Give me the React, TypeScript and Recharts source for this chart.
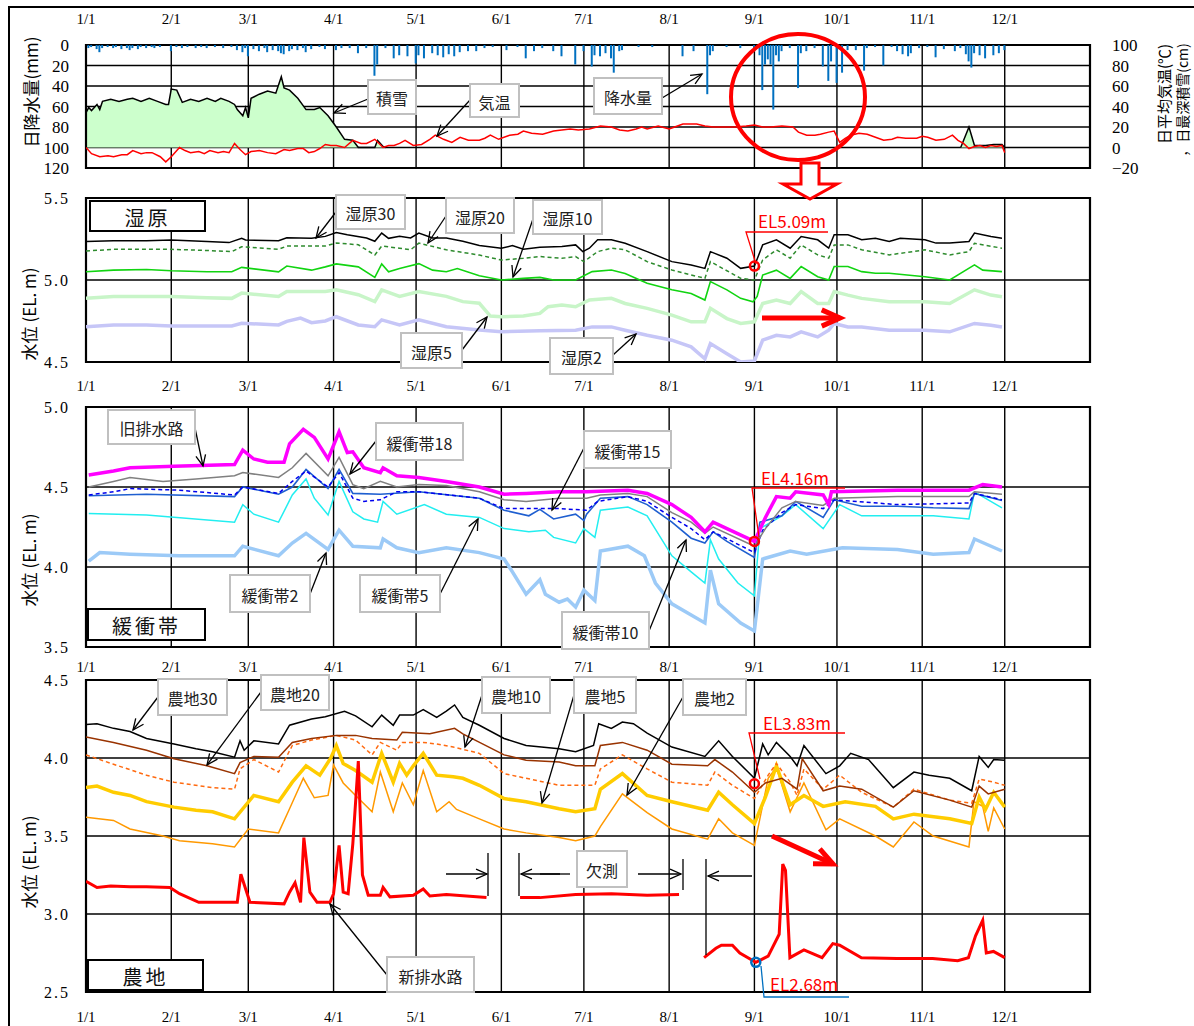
import React from "react";
import {
  ComposedChart,
  Line,
  Area,
  Bar,
  XAxis,
  YAxis,
  CartesianGrid,
  ReferenceArea,
  ReferenceDot,
} from "recharts";

type Pt = [number, number];

// ---- axis categories ----
const monthDays = [0, 31, 59, 90, 120, 151, 181, 212, 243, 273, 304, 334];
const monthLabels = ["1/1", "2/1", "3/1", "4/1", "5/1", "6/1", "7/1", "8/1", "9/1", "10/1", "11/1", "12/1"];
const xTicks = [...monthDays, 365];

// ---- weather panel: [day of year, value] ----
const rainfall: Pt[] = [
  [1, 3], [2, 2], [4, 4], [5, 7], [6, 3], [8, 2], [10, 3], [11, 2], [13, 4], [15, 3], [16, 5], [17, 3], [19, 4],
  [20, 2], [22, 3], [24, 2], [25, 3], [27, 2], [31, 6], [33, 2], [35, 3], [37, 2], [40, 3], [42, 2], [44, 3],
  [47, 2], [50, 3], [53, 2], [55, 5], [57, 7], [58, 3], [59, 11], [61, 4], [63, 6], [65, 3], [66, 7], [68, 5],
  [70, 6], [71, 8], [72, 9], [74, 6], [75, 4], [77, 5], [79, 3], [80, 7], [82, 4], [85, 2], [87, 4], [91, 5],
  [93, 3], [96, 3], [99, 8], [102, 3], [105, 30], [106, 19], [109, 3], [112, 13], [114, 10], [117, 11],
  [120, 18], [121, 10], [123, 13], [126, 8], [128, 10], [130, 12], [132, 9], [134, 11], [136, 7], [139, 6],
  [142, 6], [145, 3], [148, 2], [153, 5], [157, 2], [160, 13], [163, 6], [166, 3], [170, 6], [173, 11],
  [178, 19], [181, 6], [184, 21], [185, 10], [187, 11], [189, 8], [191, 13], [192, 27], [194, 6], [195, 5],
  [201, 2], [206, 2], [217, 11], [221, 6], [226, 48], [227, 10], [228, 6], [233, 2], [238, 3], [243, 4],
  [245, 10], [246, 44], [247, 19], [248, 14], [249, 19], [250, 63], [251, 10], [252, 16], [253, 6], [256, 3],
  [259, 42], [260, 8], [262, 6], [265, 3], [268, 21], [270, 35], [271, 16], [273, 37], [275, 27], [277, 5],
  [280, 5], [283, 25], [284, 3], [287, 2], [290, 20], [293, 2], [295, 6], [297, 9], [299, 11], [300, 8],
  [303, 3], [306, 2], [309, 12], [312, 4], [316, 6], [318, 3], [320, 9], [321, 16], [322, 22], [323, 8],
  [325, 10], [327, 13], [330, 10], [332, 8], [334, 5],
];

const airTemp: Pt[] = [
  [0, 0], [2, -6], [5, -9], [8, -8], [10, -9], [13, -7], [15, -7], [17, -3], [20, -6], [22, -5], [24, -5],
  [27, -9], [29, -14], [31, -9], [34, 0], [36, -3], [38, -5], [41, -4], [43, -6], [45, -3], [48, -5], [50, -4],
  [52, -5], [54, 4], [56, -2], [58, -7], [60, -4], [63, -3], [66, -5], [69, -6], [72, -2], [74, -3], [77, -1],
  [79, -1], [81, -5], [83, -4], [85, -1], [87, 3], [89, 2], [91, 2], [94, 0], [97, 7], [100, 4], [102, 4],
  [105, 8], [108, 0], [110, 2], [112, 2], [114, 4], [116, 7], [119, 2], [122, 3], [125, 8], [127, 12],
  [130, 8], [133, 5], [136, 10], [139, 7], [143, 7], [145, 9], [147, 12], [150, 8], [154, 12], [157, 13],
  [159, 16], [162, 14], [166, 13], [170, 16], [173, 17], [176, 18], [179, 17], [183, 18], [187, 21], [191, 20],
  [194, 17], [197, 16], [200, 18], [202, 20], [204, 18], [208, 21], [212, 18], [214, 20], [217, 23], [220, 23],
  [222, 23], [225, 21], [228, 20], [232, 20], [236, 20], [240, 21], [243, 22], [246, 20], [249, 20], [253, 21],
  [257, 20], [259, 15], [262, 12], [265, 12], [267, 13], [270, 15], [272, 16], [274, 5], [276, 9], [278, 12],
  [281, 14], [284, 13], [287, 10], [290, 7], [293, 8], [295, 10], [298, 9], [302, 9], [304, 11], [306, 10],
  [309, 7], [312, 8], [315, 12], [317, 7], [319, 4], [321, -1], [323, 1], [325, 2], [327, 0], [329, 2],
  [331, 1], [333, 2], [334, -5],
];

const snowWinter: Pt[] = [
  [0, 34], [1, 39], [2, 36], [4, 42], [5, 37], [6, 45], [9, 47], [12, 45], [15, 47], [17, 48], [20, 45],
  [23, 48], [26, 45], [29, 42], [30, 42], [31, 57], [33, 56], [35, 44], [38, 47], [41, 45], [44, 48], [47, 45],
  [49, 48], [52, 45], [54, 42], [55, 37], [57, 31], [58, 39], [59, 29], [60, 48], [63, 52], [66, 55], [69, 53],
  [71, 69], [72, 58], [74, 56], [77, 48], [80, 37], [83, 37], [85, 39], [88, 31], [91, 20], [94, 8], [97, 7],
  [99, 0], [105, 0], [106, 7], [108, 1], [109, 0],
];
const snowLate: Pt[] = [[318, 0], [321, 20], [323, 2], [327, 2], [330, 3], [333, 3], [334, 0]];

// ---- 湿原 panel (EL. m) ----
const wet30: Pt[] = [
  [0, 5.234], [10, 5.24], [22, 5.24], [31, 5.244], [44, 5.234], [52, 5.228], [56.6, 5.254], [58, 5.244],
  [70, 5.24], [73, 5.258], [82, 5.254], [87, 5.266], [91, 5.29], [95, 5.276], [102, 5.256], [105, 5.236],
  [107.5, 5.286], [110, 5.254], [114, 5.266], [118, 5.256], [121, 5.286], [126, 5.256], [131, 5.256],
  [137, 5.236], [143, 5.21], [151, 5.193], [155, 5.21], [159, 5.187], [165, 5.2], [173, 5.204], [178, 5.214],
  [180.6, 5.173], [183, 5.194], [186, 5.245], [191, 5.245], [196, 5.224], [204, 5.173], [213, 5.112],
  [220, 5.092], [225, 5.071], [227, 5.173], [233, 5.133], [238, 5.071], [243, 5.085], [246, 5.214],
  [251, 5.245], [256, 5.194], [260, 5.265], [266, 5.245], [270, 5.194], [272, 5.276], [277, 5.276],
  [282, 5.245], [287, 5.255], [292, 5.235], [296, 5.255], [305, 5.245], [309, 5.225], [314, 5.225],
  [321, 5.235], [323, 5.286], [329, 5.265], [333, 5.255],
];
const wet20: Pt[] = [
  [0, 5.177], [10, 5.187], [31, 5.187], [44, 5.18], [53, 5.173], [56.6, 5.203], [70, 5.187], [73, 5.207],
  [87, 5.207], [91, 5.225], [99, 5.215], [105, 5.152], [107.5, 5.207], [114, 5.194], [118, 5.184],
  [121, 5.225], [131, 5.184], [143, 5.152], [151, 5.122], [159, 5.132], [165, 5.143], [173, 5.132],
  [178, 5.143], [181, 5.112], [186, 5.173], [191, 5.194], [196, 5.184], [204, 5.112], [213, 5.061],
  [220, 5.031], [225, 5.01], [227, 5.112], [238, 5.01], [243, 5.0], [246, 5.122], [251, 5.184], [256, 5.133],
  [260, 5.214], [266, 5.153], [270, 5.133], [272, 5.214], [277, 5.214], [282, 5.184], [292, 5.153],
  [305, 5.184], [314, 5.153], [321, 5.173], [323, 5.224], [333, 5.194],
];
const wet10: Pt[] = [
  [0, 5.05], [10, 5.06], [22, 5.064], [31, 5.056], [44, 5.05], [53, 5.05], [56.6, 5.077], [70, 5.05],
  [73, 5.085], [82, 5.06], [87, 5.08], [91, 5.098], [99, 5.08], [105, 5.016], [107.5, 5.098], [110, 5.05],
  [114, 5.07], [121, 5.1], [126, 5.06], [131, 5.05], [135, 5.07], [143, 5.026], [151, 5.0], [159, 5.01],
  [165, 5.016], [170, 5.0], [178, 5.0], [184, 5.051], [191, 5.061], [196, 5.04], [204, 4.98], [213, 4.94],
  [220, 4.918], [225, 4.878], [227, 4.99], [233, 4.94], [238, 4.888], [242.5, 4.867], [244, 4.9],
  [246, 5.03], [251, 5.06], [256, 5.01], [260, 5.082], [266, 5.02], [270, 5.0], [272, 5.082], [277, 5.082],
  [282, 5.051], [287, 5.041], [292, 5.041], [305, 5.02], [314, 5.0], [323, 5.092], [326, 5.06], [333, 5.051],
];
const wet5: Pt[] = [
  [0, 4.888], [10, 4.9], [22, 4.9], [31, 4.9], [44, 4.892], [53, 4.888], [56.6, 4.92], [70, 4.9], [73, 4.93],
  [87, 4.93], [91, 4.94], [99, 4.91], [105, 4.868], [107.5, 4.94], [114, 4.9], [121, 4.93], [131, 4.9],
  [137, 4.868], [143, 4.858], [147, 4.78], [151, 4.776], [159, 4.78], [165, 4.796], [168, 4.837],
  [173, 4.847], [178, 4.837], [183, 4.878], [191, 4.888], [196, 4.857], [204, 4.827], [213, 4.786],
  [220, 4.745], [225, 4.745], [227, 4.827], [233, 4.765], [238, 4.735], [243, 4.745], [246, 4.857],
  [251, 4.878], [256, 4.857], [260, 4.93], [266, 4.857], [270, 4.857], [272, 4.93], [277, 4.908],
  [282, 4.888], [292, 4.868], [305, 4.867], [314, 4.857], [323, 4.94], [329, 4.908], [333, 4.898],
];
const wet2: Pt[] = [
  [0, 4.715], [10, 4.726], [22, 4.726], [31, 4.72], [44, 4.72], [53, 4.72], [56.6, 4.736], [70, 4.726],
  [73, 4.748], [78, 4.768], [82, 4.74], [87, 4.75], [91, 4.776], [99, 4.726], [105, 4.715], [107.5, 4.757],
  [114, 4.726], [121, 4.757], [131, 4.715], [143, 4.695], [151, 4.685], [165, 4.69], [178, 4.694],
  [184, 4.714], [191, 4.714], [196, 4.694], [204, 4.663], [213, 4.633], [220, 4.592], [225, 4.52],
  [227, 4.612], [233, 4.55], [238, 4.5], [243, 4.506], [246, 4.633], [251, 4.663], [256, 4.653],
  [260, 4.684], [266, 4.653], [270, 4.694], [272, 4.735], [277, 4.714], [282, 4.714], [292, 4.694],
  [305, 4.694], [314, 4.684], [323, 4.735], [329, 4.724], [333, 4.714],
];

// ---- 緩衝帯 panel (EL. m) ----
const oldDrain: Pt[] = [
  [1, 4.575], [10, 4.6], [16, 4.62], [32, 4.63], [54, 4.64], [57, 4.73], [61, 4.675], [66, 4.655],
  [72, 4.655], [74, 4.77], [79, 4.86], [83, 4.81], [88, 4.675], [92, 4.845], [95, 4.715], [97, 4.72],
  [101, 4.62], [107, 4.59], [108, 4.62], [113, 4.57], [121, 4.56], [131, 4.535], [143, 4.5], [152, 4.455],
  [160, 4.46], [172, 4.47], [182, 4.47], [197, 4.48], [204, 4.46], [213, 4.39], [220, 4.31], [225, 4.22],
  [228, 4.28], [233, 4.24], [243, 4.16], [247, 4.31], [251, 4.44], [256, 4.43], [258, 4.47], [268, 4.45],
  [270, 4.39], [271, 4.47], [295, 4.48], [321, 4.48], [326, 4.515], [333, 4.5],
];
const buf18: Pt[] = [
  [1, 4.5], [10, 4.535], [16, 4.56], [28, 4.535], [40, 4.55], [54, 4.57], [57, 4.59], [70, 4.56], [75, 4.62],
  [80, 4.71], [88, 4.57], [92, 4.685], [97, 4.515], [101, 4.49], [107, 4.535], [113, 4.5], [121, 4.515],
  [131, 4.51], [143, 4.47], [152, 4.42], [160, 4.41], [172, 4.43], [182, 4.43], [187, 4.45], [197, 4.46],
  [204, 4.44], [213, 4.34], [220, 4.28], [225, 4.21], [228, 4.25], [243, 4.13], [247, 4.24], [253, 4.37],
  [258, 4.41], [268, 4.385], [272, 4.43], [295, 4.44], [321, 4.44], [323, 4.47], [333, 4.455],
];
const buf15: Pt[] = [
  [1, 4.45], [10, 4.47], [16, 4.49], [34, 4.48], [54, 4.45], [57, 4.5], [70, 4.46], [75, 4.535], [80, 4.6],
  [88, 4.5], [92, 4.59], [97, 4.43], [101, 4.41], [107, 4.42], [113, 4.47], [121, 4.47], [143, 4.43],
  [152, 4.365], [172, 4.365], [182, 4.355], [186, 4.41], [197, 4.44], [204, 4.41], [213, 4.31], [220, 4.24],
  [225, 4.17], [228, 4.22], [243, 4.09], [246, 4.23], [253, 4.34], [258, 4.39], [268, 4.365], [272, 4.42],
  [295, 4.39], [321, 4.4], [323, 4.46], [333, 4.42],
];
const buf10: Pt[] = [
  [1, 4.445], [22, 4.455], [54, 4.44], [57, 4.5], [70, 4.455], [75, 4.5], [80, 4.61], [88, 4.49], [92, 4.61],
  [97, 4.46], [107, 4.455], [121, 4.47], [143, 4.43], [152, 4.355], [161, 4.32], [165, 4.36], [170, 4.3],
  [178, 4.33], [181, 4.29], [182, 4.33], [187, 4.43], [197, 4.44], [204, 4.39], [213, 4.28], [220, 4.18],
  [225, 4.15], [228, 4.22], [233, 4.16], [243, 4.06], [245, 4.28], [253, 4.32], [258, 4.41], [268, 4.31],
  [272, 4.42], [282, 4.38], [295, 4.38], [308, 4.37], [321, 4.365], [323, 4.46], [333, 4.415],
];
const buf5: Pt[] = [
  [1, 4.335], [22, 4.325], [54, 4.28], [57, 4.39], [61, 4.33], [70, 4.28], [75, 4.45], [80, 4.55], [83, 4.43],
  [88, 4.325], [92, 4.535], [97, 4.345], [101, 4.3], [106, 4.28], [108, 4.41], [113, 4.33], [123, 4.39],
  [131, 4.33], [143, 4.31], [152, 4.24], [161, 4.22], [167, 4.23], [170, 4.185], [178, 4.15], [181, 4.24],
  [185, 4.185], [187, 4.355], [197, 4.375], [204, 4.32], [213, 4.07], [220, 3.97], [225, 3.9], [227, 4.17],
  [230, 4.05], [237, 3.9], [243, 3.82], [245, 4.24], [253, 4.32], [258, 4.39], [268, 4.24], [274, 4.39],
  [282, 4.32], [295, 4.32], [308, 4.32], [321, 4.3], [323, 4.47], [333, 4.37],
];
const buf2: Pt[] = [
  [1, 4.036], [5, 4.09], [16, 4.08], [34, 4.07], [54, 4.07], [57, 4.13], [70, 4.07], [75, 4.15], [80, 4.21],
  [88, 4.11], [92, 4.23], [97, 4.13], [107, 4.12], [108, 4.175], [113, 4.12], [121, 4.09], [131, 4.12],
  [143, 4.09], [152, 4.05], [155, 3.97], [160, 3.83], [165, 3.92], [167, 3.83], [172, 3.78], [175, 3.8],
  [178, 3.75], [181, 3.855], [185, 3.79], [187, 4.1], [197, 4.13], [203, 4.07], [207, 3.9], [213, 3.77],
  [220, 3.7], [225, 3.65], [227, 3.98], [230, 3.77], [238, 3.65], [243, 3.6], [246, 4.05], [256, 4.1],
  [262, 4.08], [275, 4.12], [295, 4.11], [308, 4.08], [321, 4.09], [323, 4.175], [333, 4.1],
];

// ---- 農地 panel (EL. m) ----
const farm30: Pt[] = [
  [0, 4.215], [4, 4.22], [10, 4.19], [16, 4.17], [22, 4.125], [32, 4.09], [40, 4.06], [46, 4.04], [54, 4.005],
  [56, 4.11], [57.5, 4.05], [61, 4.11], [70, 4.09], [74, 4.21], [82, 4.25], [87, 4.265], [94, 4.3], [98, 4.27],
  [104, 4.2], [107.5, 4.275], [111.7, 4.21], [114, 4.275], [119, 4.275], [122.6, 4.31], [127.5, 4.26],
  [131, 4.3], [134, 4.34], [137, 4.26], [143, 4.21], [152, 4.125], [160, 4.08], [172, 4.06], [178, 4.04],
  [184.5, 4.08], [186.4, 4.22], [191, 4.19], [195, 4.23], [199, 4.22], [204, 4.16], [213, 4.07], [225, 4.01],
  [230, 4.11], [235, 4.01], [243, 3.87], [246, 4.09], [248, 4.02], [251, 4.1], [256, 4.01], [258.5, 3.95],
  [261, 4.08], [269, 3.9], [274, 3.95], [278, 4.03], [284.5, 3.99], [293.5, 3.81], [301, 3.91],
  [306.5, 3.89], [314, 3.87], [322, 3.79], [324.7, 4.01], [328, 3.94], [330, 3.99], [334, 3.985],
];
const farm20: Pt[] = [
  [0, 4.135], [10, 4.1], [22, 4.05], [32, 3.995], [44, 3.95], [54, 3.9], [56, 3.97], [61, 4.01], [70, 4.005],
  [75, 4.1], [82, 4.125], [91, 4.145], [98, 4.145], [104, 4.125], [113, 4.115], [115, 4.165], [125, 4.155],
  [134, 4.19], [137, 4.155], [152, 4.02], [160, 3.985], [172, 3.975], [178, 3.95], [185, 3.95], [187, 4.08],
  [195, 4.1], [204, 4.05], [213, 3.96], [226, 3.95], [228.6, 3.99], [235, 3.91], [243, 3.78], [247, 3.84],
  [253, 3.87], [258.5, 3.8], [260.4, 3.995], [268, 3.79], [274, 3.82], [282, 3.8], [293.5, 3.685],
  [301, 3.79], [314, 3.73], [322, 3.685], [324.7, 3.82], [328, 3.77], [334, 3.8],
];
const farm10: Pt[] = [
  [0, 4.02], [10, 3.96], [22, 3.89], [32, 3.845], [46, 3.81], [54, 3.8], [56, 3.93], [61, 3.99], [70, 3.91],
  [75, 4.08], [82, 4.115], [91, 4.145], [98, 4.115], [104, 4.02], [107, 4.1], [113, 4.05], [115, 4.1],
  [122.6, 4.1], [127.5, 4.09], [133.5, 4.07], [143, 4.03], [152, 3.9], [160, 3.87], [172, 3.825],
  [178, 3.825], [185, 3.825], [187, 3.93], [195, 4.02], [204, 3.93], [213, 3.845], [226, 3.825],
  [228.6, 3.91], [235, 3.825], [243, 3.74], [248, 3.89], [251, 3.965], [256, 3.845], [258.5, 3.76],
  [261, 3.93], [268, 3.8], [274, 3.89], [282, 3.78], [293.5, 3.685], [301, 3.8], [314, 3.73], [322, 3.71],
  [324.7, 3.865], [330, 3.845], [334, 3.825],
];
const farm5: Pt[] = [
  [0, 3.81], [4, 3.82], [10, 3.78], [16, 3.76], [22, 3.72], [32, 3.685], [40, 3.665], [46, 3.655], [54, 3.61],
  [61, 3.76], [70, 3.72], [75, 3.845], [80, 3.95], [85, 3.89], [89, 4.0], [91, 4.08], [93.5, 3.965], [98, 3.92],
  [104, 3.845], [107.5, 4.03], [111.7, 3.845], [114, 3.965], [116.6, 3.89], [119, 3.95], [122.6, 4.03],
  [127.5, 3.89], [133.5, 3.88], [137, 3.87], [143, 3.825], [152, 3.74], [160, 3.72], [172, 3.675],
  [178, 3.655], [185, 3.675], [187, 3.8], [195, 3.9], [204, 3.76], [213, 3.72], [226, 3.665], [230, 3.78],
  [235, 3.7], [243, 3.58], [247, 3.75], [251, 3.95], [256, 3.7], [261, 3.76], [268, 3.69], [276, 3.72],
  [287, 3.69], [293.5, 3.61], [301, 3.64], [314, 3.61], [322, 3.58], [324.7, 3.75], [327, 3.67], [330, 3.78],
  [334, 3.685],
];
const farm2: Pt[] = [
  [0, 3.62], [10, 3.6], [16, 3.545], [28, 3.5], [34, 3.47], [46, 3.45], [54, 3.43], [59, 3.545], [70, 3.52],
  [74, 3.675], [79, 3.87], [83, 3.745], [88, 3.76], [90, 3.955], [93.5, 3.84], [98, 3.76], [104, 3.655],
  [107, 3.91], [111.7, 3.655], [115, 3.84], [119, 3.7], [122.6, 3.92], [127.5, 3.655], [132, 3.72],
  [134.7, 3.67], [143, 3.61], [152, 3.545], [160, 3.52], [172, 3.49], [178, 3.47], [185, 3.5], [187, 3.56],
  [195, 3.77], [204, 3.65], [213, 3.545], [226, 3.48], [230, 3.61], [235, 3.52], [243, 3.44], [248, 3.87],
  [251, 3.94], [256, 3.655], [261, 3.84], [269, 3.54], [274, 3.61], [287, 3.5], [293.5, 3.43], [301, 3.59],
  [308, 3.5], [321, 3.43], [322.8, 3.72], [326, 3.69], [328, 3.53], [330, 3.68], [334, 3.545],
];
// 新排水路: three pieces, with missing data (欠測) between them
const newDrainA: Pt[] = [
  [0, 3.21], [4, 3.17], [9, 3.18], [16, 3.175], [22, 3.175], [30.5, 3.17], [34, 3.13], [41, 3.075], [55, 3.075],
  [56.3, 3.255], [59.6, 3.075], [72, 3.065], [74, 3.14], [76, 3.2], [78, 3.075], [79.2, 3.49], [81.4, 3.14],
  [84, 3.075], [88.7, 3.075], [90, 3.13], [92, 3.44], [93.5, 3.14], [95.3, 3.13], [97, 3.45], [99, 3.98],
  [100.5, 3.25], [102.6, 3.12], [107, 3.12], [108, 3.17], [110.5, 3.11], [119, 3.12], [122.6, 3.16],
  [125, 3.115], [131, 3.125], [145.6, 3.105],
];
const newDrainB: Pt[] = [[157.8, 3.105], [165, 3.105], [178, 3.125], [191, 3.13], [204, 3.12], [215.6, 3.125]];
const newDrainC: Pt[] = [
  [224.7, 2.72], [229, 2.78], [231, 2.8], [235, 2.8], [237.7, 2.75], [243.5, 2.69], [248, 2.73], [252, 2.87],
  [253.3, 3.32], [254.3, 3.28], [255.9, 2.72], [261, 2.77], [267.6, 2.72], [271.5, 2.81], [274, 2.8],
  [281.9, 2.72], [294.8, 2.715], [307.8, 2.715], [316.9, 2.7], [320.8, 2.72], [323.4, 2.86], [326, 2.96],
  [327.3, 2.75], [329.9, 2.76], [334, 2.72],
];

// ---------------------------------------------------------------
const SERIF = "'Liberation Serif', 'DejaVu Serif', serif";
const SANS = "'Noto Sans CJK JP', 'Noto Sans', sans-serif";
const W = 1194;

function mergeSeries(series: Record<string, Pt[]>) {
  const rows = new Map<number, Record<string, number>>();
  for (const [key, pts] of Object.entries(series)) {
    for (const [day, v] of pts) {
      const row = rows.get(day) ?? { day };
      row[key] = v;
      rows.set(day, row);
    }
  }
  return [...rows.values()].sort((a, b) => a.day - b.day);
}

const topRows = mergeSeries({ rain: rainfall, temp: airTemp, snowA: snowWinter, snowB: snowLate });
const wetRows = mergeSeries({ wet30, wet20, wet10, wet5, wet2 });
const bufRows = mergeSeries({ oldDrain, buf18, buf15, buf10, buf5, buf2 });
const farmRows = mergeSeries({ farm30, farm20, farm10, farm5, farm2, newDrainA, newDrainB, newDrainC });

const fmtMonth = (v: number) => {
  const i = monthDays.indexOf(v);
  return i >= 0 ? monthLabels[i] : "";
};
const xTick = { fill: "#000", fontSize: 15, fontFamily: SERIF };
const yTick = { fill: "#000", fontSize: 17, fontFamily: SERIF };
const elTick = { fill: "#000", fontSize: 16, fontFamily: SERIF, letterSpacing: 2 };

function monthAxis(orientation: "top" | "bottom", margin: number) {
  return (
    <XAxis
      dataKey="day"
      type="number"
      domain={[0, 365]}
      ticks={xTicks}
      interval={0}
      orientation={orientation}
      height={30}
      axisLine={false}
      tickLine={false}
      tickSize={0}
      tickMargin={margin}
      tick={xTick}
      tickFormatter={fmtMonth}
      allowDataOverflow
    />
  );
}

function levelAxis(domain: [number, number], ticks: number[]) {
  return (
    <YAxis
      type="number"
      domain={domain}
      ticks={ticks}
      interval={0}
      width={70}
      axisLine={false}
      tickLine={false}
      tickSize={0}
      tickMargin={16}
      tick={elTick}
      tickFormatter={(v: number) => v.toFixed(1)}
      allowDataOverflow
    />
  );
}

const line = (key: string, color: string, width = 1.5, dash?: string) => (
  <Line
    key={key}
    type="linear"
    dataKey={key}
    stroke={color}
    strokeWidth={width}
    strokeDasharray={dash}
    dot={false}
    activeDot={false}
    connectNulls
    isAnimationActive={false}
  />
);

const gridProps = { stroke: "#000", strokeWidth: 1.4 };
const boxProps = { fill: "none", stroke: "#000", strokeWidth: 2.2, fillOpacity: 0 };
const svgStyle = { overflow: "visible" as const };

type Callout = { text: string; x: number; y: number; w: number; h: number; ax: number; ay: number; tx: number; ty: number };

const callouts: Callout[] = [
  { text: "積雪", x: 368, y: 80, w: 48, h: 34, ax: 368, ay: 99, tx: 334, ty: 113 },
  { text: "気温", x: 470, y: 84, w: 49, h: 33, ax: 470, ay: 100, tx: 437, ty: 136 },
  { text: "降水量", x: 594, y: 78, w: 68, h: 36, ax: 662, ay: 98, tx: 702, ty: 74 },
  { text: "湿原30", x: 336, y: 195, w: 69, h: 34, ax: 336, ay: 212, tx: 316, ty: 238 },
  { text: "湿原20", x: 446, y: 198, w: 68, h: 35, ax: 446, ay: 216, tx: 428, ty: 243 },
  { text: "湿原10", x: 533, y: 200, w: 69, h: 34, ax: 534, ay: 216, tx: 513, ty: 277 },
  { text: "湿原5", x: 401, y: 333, w: 61, h: 35, ax: 462, ay: 350, tx: 487, ty: 317 },
  { text: "湿原2", x: 550, y: 338, w: 63, h: 36, ax: 613, ay: 355, tx: 636, ty: 334 },
  { text: "旧排水路", x: 108, y: 410, w: 87, h: 34, ax: 195, ay: 428, tx: 203, ty: 466 },
  { text: "緩衝帯18", x: 376, y: 423, w: 87, h: 37, ax: 376, ay: 441, tx: 350, ty: 474 },
  { text: "緩衝帯15", x: 584, y: 431, w: 87, h: 37, ax: 584, ay: 448, tx: 552, ty: 510 },
  { text: "緩衝帯2", x: 230, y: 575, w: 80, h: 37, ax: 310, ay: 594, tx: 326, ty: 553 },
  { text: "緩衝帯5", x: 360, y: 575, w: 80, h: 37, ax: 440, ay: 594, tx: 478, ty: 519 },
  { text: "緩衝帯10", x: 562, y: 612, w: 87, h: 37, ax: 649, ay: 631, tx: 686, ty: 540 },
  { text: "農地30", x: 158, y: 679, w: 69, h: 36, ax: 158, ay: 697, tx: 133, ty: 730 },
  { text: "農地20", x: 261, y: 675, w: 68, h: 35, ax: 261, ay: 692, tx: 207, ty: 765 },
  { text: "農地10", x: 482, y: 677, w: 68, h: 36, ax: 482, ay: 695, tx: 465, ty: 747 },
  { text: "農地5", x: 574, y: 677, w: 62, h: 36, ax: 574, ay: 695, tx: 542, ty: 803 },
  { text: "農地2", x: 683, y: 679, w: 63, h: 36, ax: 683, ay: 697, tx: 627, ty: 795 },
  { text: "新排水路", x: 387, y: 957, w: 87, h: 35, ax: 387, ay: 975, tx: 330, ty: 904 },
];

const panelNames = [
  { text: "湿原", x: 90, y: 201, w: 115, h: 30 },
  { text: "緩衝帯", x: 88, y: 609, w: 117, h: 31 },
  { text: "農地", x: 88, y: 960, w: 115, h: 30 },
];

function head(x1: number, y1: number, x2: number, y2: number, len = 12, spread = 0.42) {
  const a = Math.atan2(y2 - y1, x2 - x1);
  const p1 = [x2 - len * Math.cos(a - spread), y2 - len * Math.sin(a - spread)];
  const p2 = [x2 - len * Math.cos(a + spread), y2 - len * Math.sin(a + spread)];
  return `M${p1[0]},${p1[1]} L${x2},${y2} L${p2[0]},${p2[1]}`;
}

function Arrow({ x1, y1, x2, y2, color = "#000", width = 1.3, len = 12 }: any) {
  return (
    <g>
      <line x1={x1} y1={y1} x2={x2} y2={y2} stroke={color} strokeWidth={width} />
      <path d={head(x1, y1, x2, y2, len)} fill="none" stroke={color} strokeWidth={width} />
    </g>
  );
}

function Overlay() {
  return (
    <svg width={W} height={1026} style={{ position: "absolute", left: 0, top: 0, pointerEvents: "none" }}>
      {/* axis titles */}
      <g fontFamily={SANS} fontSize={17} fill="#000">
        <text transform="rotate(-90 30 92)" x={30} y={92} textAnchor="middle" dominantBaseline="central">日降水量(mm)</text>
        <text transform="rotate(-90 1163 94)" x={1163} y={94} textAnchor="middle" dominantBaseline="central" fontSize={15}>日平均気温(℃)</text>
        <text transform="rotate(-90 1182 100)" x={1182} y={100} textAnchor="middle" dominantBaseline="central" fontSize={14}>，日最深積雪(cm)</text>
        <text transform="rotate(-90 28 314)" x={28} y={314} textAnchor="middle" dominantBaseline="central">水位 (EL. m)</text>
        <text transform="rotate(-90 28 560)" x={28} y={560} textAnchor="middle" dominantBaseline="central">水位 (EL. m)</text>
        <text transform="rotate(-90 28 862)" x={28} y={862} textAnchor="middle" dominantBaseline="central">水位 (EL. m)</text>
      </g>

      {/* callout labels */}
      {callouts.map((c) => (
        <g key={c.text}>
          <Arrow x1={c.ax} y1={c.ay} x2={c.tx} y2={c.ty} />
          <rect x={c.x} y={c.y} width={c.w} height={c.h} fill="#fff" stroke="#c0c0c0" strokeWidth={2} />
          <text x={c.x + c.w / 2} y={c.y + c.h / 2 + 1} textAnchor="middle" dominantBaseline="central" fontFamily={SANS} fontSize={16} fill="#222">
            {c.text}
          </text>
        </g>
      ))}

      {panelNames.map((p) => (
        <g key={p.text}>
          <rect x={p.x} y={p.y} width={p.w} height={p.h} fill="#fff" stroke="#000" strokeWidth={2} />
          <text x={p.x + p.w / 2} y={p.y + p.h / 2 + 1} textAnchor="middle" dominantBaseline="central" fontFamily={SANS} fontSize={20} letterSpacing={3} fill="#111">
            {p.text}
          </text>
        </g>
      ))}

      {/* 欠測 markers */}
      <g stroke="#000" strokeWidth={1.3} fill="none">
        <Arrow x1={446} y1={874} x2={487} y2={874} />
        <line x1={488} y1={853} x2={488} y2={896} />
        <line x1={519} y1={853} x2={519} y2={896} />
        <Arrow x1={560} y1={874} x2={521} y2={874} />
        <line x1={540} y1={874} x2={570} y2={874} />
        <Arrow x1={638} y1={874} x2={681} y2={874} />
        <line x1={683} y1={859} x2={683} y2={890} />
        <line x1={706} y1={859} x2={706} y2={955} />
        <Arrow x1={752} y1={876} x2={708} y2={876} />
      </g>
      <rect x={577} y={851} width={50} height={36} fill="#fff" stroke="#c0c0c0" strokeWidth={2} />
      <text x={602} y={870} textAnchor="middle" dominantBaseline="central" fontFamily={SANS} fontSize={16} fill="#222">欠測</text>

      {/* red EL call-outs */}
      <g fontFamily={SANS} fontSize={17} fill="#ff0000">
        <text x={758} y={228}>EL5.09m</text>
        <text x={761} y={485}>EL4.16m</text>
        <text x={763} y={730}>EL3.83m</text>
        <text x={770} y={991}>EL2.68m</text>
      </g>
      <g stroke="#ff0000" strokeWidth={1.3} fill="none">
        <path d="M828,232 L746,232 L756,264" />
        <path d="M845,488 L752,488 L759,537" />
        <path d="M845,733 L749,733 L760,779" />
      </g>
      <path d="M761,966 L764,997 L849,997" stroke="#0070c0" strokeWidth={1.3} fill="none" />

      {/* red emphasis arrows */}
      <Arrow x1={762} y1={318} x2={840} y2={318} color="#ff0000" width={5} len={20} />
      <Arrow x1={772} y1={836} x2={833} y2={864} color="#ff0000" width={5} len={20} />
      <ellipse cx={798} cy={97} rx={67} ry={63} fill="none" stroke="#ff0000" strokeWidth={4} />
      <polygon points="801,163 819,163 819,184 837,184 810,199 783,184 801,184" fill="#fff" stroke="#ff0000" strokeWidth={3} />
    </svg>
  );
}

export default function App() {
  return (
    <div style={{ position: "fixed", left: 0, top: 0, width: W, height: 1026, background: "#fff", overflow: "hidden" }}>
      <div style={{ position: "absolute", left: 8, top: 6, width: 1300, height: 1100, border: "2.5px solid #000" }} />

      {/* precipitation / temperature / snow */}
      <div style={{ position: "absolute", left: 0, top: 0 }}>
        <ComposedChart width={W} height={195} data={topRows} margin={{ top: 15, right: 44, bottom: 27, left: 16 }} style={svgStyle}>
          <CartesianGrid yAxisId="rain" {...gridProps} />
          {monthAxis("top", 21)}
          <YAxis
            yAxisId="rain"
            type="number"
            domain={[0, 120]}
            reversed
            ticks={[0, 20, 40, 60, 80, 100, 120]}
            interval={0}
            width={70}
            axisLine={false}
            tickLine={false}
            tickSize={0}
            tickMargin={17}
            tick={yTick}
          />
          <YAxis
            yAxisId="temp"
            orientation="right"
            type="number"
            domain={[-20, 100]}
            ticks={[-20, 0, 20, 40, 60, 80, 100]}
            interval={0}
            width={60}
            axisLine={false}
            tickLine={false}
            tickSize={0}
            tickMargin={22}
            tick={yTick}
            tickFormatter={(v: number) => (v < 0 ? `−${-v}` : `${v}`)}
          />
          <Area yAxisId="temp" type="linear" dataKey="snowA" stroke="#000" strokeWidth={1.5} fill="#ccffcc" fillOpacity={1} baseValue={0} connectNulls dot={false} activeDot={false} isAnimationActive={false} />
          <Area yAxisId="temp" type="linear" dataKey="snowB" stroke="#000" strokeWidth={1.5} fill="#ccffcc" fillOpacity={1} baseValue={0} connectNulls dot={false} activeDot={false} isAnimationActive={false} />
          <Bar yAxisId="rain" dataKey="rain" fill="#0070c0" barSize={2} isAnimationActive={false} />
          <Line yAxisId="temp" type="linear" dataKey="temp" stroke="#ff0000" strokeWidth={1.5} dot={false} activeDot={false} connectNulls isAnimationActive={false} />
          <ReferenceArea yAxisId="rain" x1={0} x2={365} y1={0} y2={120} {...boxProps} />
        </ComposedChart>
      </div>

      {/* 湿原 */}
      <div style={{ position: "absolute", left: 0, top: 180 }}>
        <ComposedChart width={W} height={222} data={wetRows} margin={{ top: 18, right: 104, bottom: 10, left: 16 }} style={svgStyle}>
          <CartesianGrid {...gridProps} />
          {monthAxis("bottom", 18)}
          {levelAxis([4.5, 5.5], [4.5, 5.0, 5.5])}
          {line("wet2", "#c6c6f7", 3.5)}
          {line("wet5", "#c8f5c8", 3.5)}
          {line("wet10", "#11d411", 1.6)}
          {line("wet20", "#2e8b2e", 1.5, "4 3")}
          {line("wet30", "#000", 1.5)}
          <ReferenceArea x1={0} x2={365} y1={4.5} y2={5.5} {...boxProps} />
          <ReferenceDot x={243} y={5.085} r={4.5} fill="none" stroke="#ff0000" strokeWidth={2.5} />
        </ComposedChart>
      </div>

      {/* 緩衝帯 */}
      <div style={{ position: "absolute", left: 0, top: 390 }}>
        <ComposedChart width={W} height={297} data={bufRows} margin={{ top: 17, right: 104, bottom: 10, left: 16 }} style={svgStyle}>
          <CartesianGrid {...gridProps} />
          {monthAxis("bottom", 14)}
          {levelAxis([3.5, 5.0], [3.5, 4.0, 4.5, 5.0])}
          {line("buf2", "#9ccaf7", 3.5)}
          {line("buf5", "#22eef0", 1.5)}
          {line("buf10", "#1f5fd0", 1.6)}
          {line("buf15", "#0000ee", 1.5, "4 3")}
          {line("buf18", "#808080", 1.5)}
          {line("oldDrain", "#ff00ff", 3.5)}
          <ReferenceArea x1={0} x2={365} y1={3.5} y2={5.0} {...boxProps} />
          <ReferenceDot x={243} y={4.16} r={4.5} fill="none" stroke="#ff0000" strokeWidth={2.5} />
        </ComposedChart>
      </div>

      {/* 農地 */}
      <div style={{ position: "absolute", left: 0, top: 665 }}>
        <ComposedChart width={W} height={370} data={farmRows} margin={{ top: 15, right: 104, bottom: 13, left: 16 }} style={svgStyle}>
          <CartesianGrid {...gridProps} />
          {monthAxis("bottom", 19)}
          {levelAxis([2.5, 4.5], [2.5, 3.0, 3.5, 4.0, 4.5])}
          {line("farm2", "#ff9900", 1.5)}
          {line("farm5", "#ffcc00", 3.5)}
          {line("farm10", "#ff6a10", 1.5, "4 3")}
          {line("farm20", "#993300", 1.5)}
          {line("farm30", "#000", 1.5)}
          {line("newDrainA", "#ff0000", 3)}
          {line("newDrainB", "#ff0000", 3)}
          {line("newDrainC", "#ff0000", 3)}
          <ReferenceArea x1={0} x2={365} y1={2.5} y2={4.5} {...boxProps} />
          <ReferenceDot x={243} y={3.835} r={4.5} fill="none" stroke="#ff0000" strokeWidth={2.5} />
          <ReferenceDot x={243.5} y={2.69} r={4.5} fill="none" stroke="#0070c0" strokeWidth={2.5} />
        </ComposedChart>
      </div>

      <Overlay />
    </div>
  );
}
